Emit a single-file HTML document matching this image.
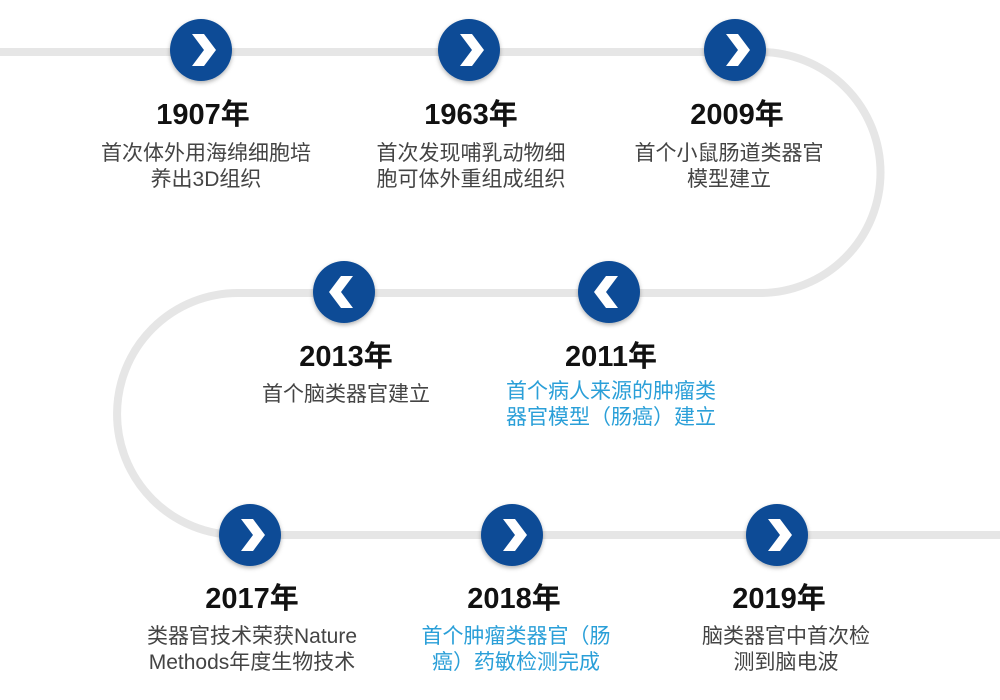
<!DOCTYPE html>
<html><head><meta charset="utf-8"><style>
body{margin:0;width:1000px;height:700px;background:#fff;position:relative;overflow:hidden;font-family:"Liberation Sans","Noto Sans CJK SC",sans-serif}
.y{position:absolute;width:300px;text-align:center;font-size:29px;font-weight:bold;color:#111;line-height:30px}
.d{position:absolute;width:300px;text-align:center;font-size:21px;color:#444;line-height:26px}
.b{color:#2a9fd8}
svg{position:absolute;left:0;top:0}
</style></head><body>
<svg width="1000" height="700">
<defs>
<filter id="s" x="-30%" y="-30%" width="160%" height="160%"><feDropShadow dx="0" dy="2" stdDeviation="2" flood-opacity="0.3"/></filter>
<g id="r"><circle r="31" fill="#0d4c96" filter="url(#s)"/><polygon points="-9,-16 3,-16 15,0 3,16 -9,16 3,0" fill="#fff"/></g>
<g id="l"><circle r="31" fill="#0d4c96" filter="url(#s)"/><polygon points="9,-16 -3,-16 -15,0 -3,16 9,16 -3,0" fill="#fff"/></g>
</defs>
<path d="M0 52 H760 A120.5 120.5 0 0 1 760 293 H238 A121 121 0 0 0 238 535 H1000" fill="none" stroke="#e6e6e6" stroke-width="8"/>
<use href="#r" x="201" y="50"/><use href="#r" x="469" y="50"/><use href="#r" x="735" y="50"/>
<use href="#l" x="344" y="292"/><use href="#l" x="609" y="292"/>
<use href="#r" x="250" y="535"/><use href="#r" x="512" y="535"/><use href="#r" x="777" y="535"/>
</svg>
<div class="y" style="left:53px;top:100px">1907年</div>
<div class="d" style="left:56px;top:141px">首次体外用海绵细胞培<br>养出3D组织</div>
<div class="y" style="left:321px;top:100px">1963年</div>
<div class="d" style="left:321px;top:141px">首次发现哺乳动物细<br>胞可体外重组成组织</div>
<div class="y" style="left:587px;top:100px">2009年</div>
<div class="d" style="left:579px;top:141px">首个小鼠肠道类器官<br>模型建立</div>
<div class="y" style="left:196px;top:342px">2013年</div>
<div class="d" style="left:196px;top:382px">首个脑类器官建立</div>
<div class="y" style="left:461px;top:342px">2011年</div>
<div class="d b" style="left:461px;top:379px">首个病人来源的肿瘤类<br>器官模型（肠癌）建立</div>
<div class="y" style="left:102px;top:584px">2017年</div>
<div class="d" style="left:102px;top:624px">类器官技术荣获Nature<br>Methods年度生物技术</div>
<div class="y" style="left:364px;top:584px">2018年</div>
<div class="d b" style="left:366px;top:624px">首个肿瘤类器官（肠<br>癌）药敏检测完成</div>
<div class="y" style="left:629px;top:584px">2019年</div>
<div class="d" style="left:636px;top:624px">脑类器官中首次检<br>测到脑电波</div>
</body></html>
